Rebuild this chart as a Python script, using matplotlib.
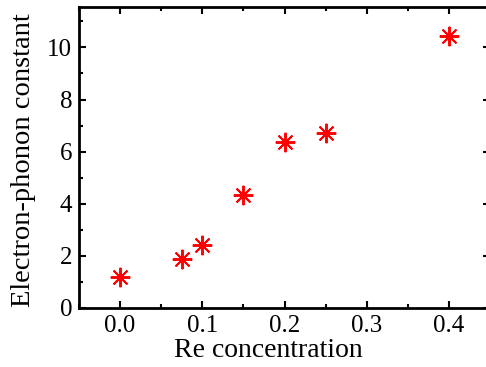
import matplotlib
matplotlib.use("Agg")
import matplotlib.pyplot as plt
from matplotlib.ticker import MultipleLocator

# Re concentration vs electron-phonon constant
re_conc = [0.0, 0.075, 0.1, 0.15, 0.2, 0.25, 0.4]
ep_const = [1.19, 1.88, 2.42, 4.35, 6.37, 6.72, 10.44]

plt.rcParams['font.family'] = ['Liberation Serif', 'DejaVu Serif']

fig = plt.figure(figsize=(4.86, 3.67), dpi=100)
ax = fig.add_axes([79 / 486, 1 - 308 / 367, (490 - 79) / 486, (308 - 7) / 367])

ax.plot(re_conc, ep_const, linestyle='none', marker=(8, 2, 0),
        markersize=14, markeredgewidth=1.4, color='red')

ax.set_xlim(-0.05, 0.45)
ax.set_ylim(0, 11.55)
ax.xaxis.set_major_locator(MultipleLocator(0.1))
ax.xaxis.set_minor_locator(MultipleLocator(0.05))
ax.yaxis.set_major_locator(MultipleLocator(2))
ax.yaxis.set_minor_locator(MultipleLocator(1))
ax.set_xticks([0.0, 0.1, 0.2, 0.3, 0.4])
ax.set_xticklabels(['0.0', '0.1', '0.2', '0.3', '0.4'])

ax.tick_params(which='both', direction='in', top=True, right=True,
               labelsize=18, width=1.5, pad=5)
ax.tick_params(which='major', length=5)
ax.tick_params(which='minor', length=3)
for s in ax.spines.values():
    s.set_linewidth(2)

ax.set_xlabel("Re concentration", fontsize=20)
ax.xaxis.set_label_coords(0.46, -0.10)
ax.set_ylabel("Electron-phonon constant", fontsize=20.5)
ax.yaxis.set_label_coords(-0.105, 0.49)

fig.savefig("out.png", dpi=100)
